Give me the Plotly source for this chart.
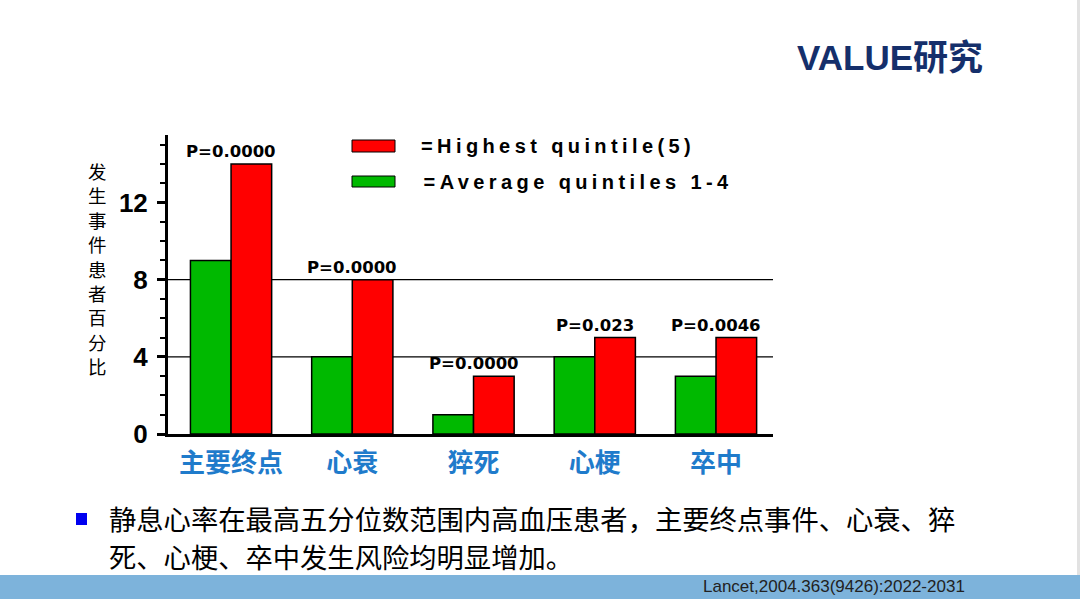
import plotly.graph_objects as go

# ---------------- data ----------------
categories = ["主要终点", "心衰", "猝死", "心梗", "卒中"]
avg_q14 = [9, 4, 1, 4, 3]          # =Average quintiles 1-4 (green)
highest_q5 = [14, 8, 3, 5, 5]      # =Highest quintile(5) (red)
p_values = ["P=0.0000", "P=0.0000", "P=0.0000", "P=0.023", "P=0.0046"]
y_ticks = [0, 4, 8, 12]
grid_values = [4, 8]
legend_names = ["=Highest quintile(5)", "=Average quintiles 1-4"]
y_title = "发生事件患者百分比"
page_title = "VALUE研究"
bullet_lines = ["静息心率在最高五分位数范围内高血压患者，主要终点事件、心衰、猝",
                "死、心梗、卒中发生风险均明显增加。"]
citation = "Lancet,2004.363(9426):2022-2031"

# ---------------- layout geometry ----------------
W_PX, H_PX = 1080, 599
L, R, T, B = 168, 773, 135, 434
PW, PH = R - L, B - T

def px(x):
    return (x - L) / PW

def py(y):
    return (B - y) / PH

RED = "#FF0000"
GREEN = "#00B900"
BLUE_LBL = "#1F7BCB"
NAVY = "#152F6B"
CJK = "Noto Sans CJK SC"
SANS = "Liberation Sans, Arial, Noto Sans CJK SC"

fig = go.Figure()
fig.add_trace(go.Bar(x=categories, y=avg_q14, name=legend_names[1],
                     marker=dict(color=GREEN, line=dict(color="black", width=1.5)),
                     showlegend=False))
fig.add_trace(go.Bar(x=categories, y=highest_q5, name=legend_names[0],
                     marker=dict(color=RED, line=dict(color="black", width=1.5)),
                     showlegend=False))

shapes = []
for g in grid_values:
    shapes.append(dict(type="line", xref="x domain", yref="y", x0=0, x1=1, y0=g, y1=g,
                       line=dict(color="black", width=1.2), layer="below"))

# legend swatches
shapes.append(dict(type="rect", xref="paper", yref="paper", x0=px(352), x1=px(395),
                   y0=py(152), y1=py(140), fillcolor=RED, line=dict(color="black", width=1)))
shapes.append(dict(type="rect", xref="paper", yref="paper", x0=px(352), x1=px(395),
                   y0=py(187), y1=py(176), fillcolor=GREEN, line=dict(color="black", width=1)))
# bullet square
shapes.append(dict(type="rect", xref="paper", yref="paper", x0=px(76), x1=px(87),
                   y0=py(525), y1=py(513), fillcolor="#0000F0", line=dict(width=0)))
# bottom band
shapes.append(dict(type="rect", xref="paper", yref="paper", x0=px(0), x1=px(W_PX),
                   y0=py(H_PX), y1=py(575), fillcolor="#7DB3DB", line=dict(width=0)))
# right edge gray strip
shapes.append(dict(type="rect", xref="paper", yref="paper", x0=px(1077), x1=px(W_PX),
                   y0=py(575), y1=py(0), fillcolor="#E2E2E2", line=dict(width=0)))

annotations = []
for c, v, p in zip(categories, highest_q5, p_values):
    annotations.append(dict(x=c, y=v, xref="x", yref="y", text=p, showarrow=False,
                            yanchor="bottom", yshift=1,
                            font=dict(family="DejaVu Sans", size=16.5, color="black", weight="bold")))
# legend texts (centred so that letter-spacing expands symmetrically)
annotations.append(dict(x=px(558), y=py(146), xref="paper", yref="paper", text=legend_names[0],
                        showarrow=False, xanchor="center", yanchor="middle",
                        font=dict(family="Liberation Sans", size=20, color="black", weight="bold")))
annotations.append(dict(x=px(578), y=py(182), xref="paper", yref="paper", text=legend_names[1],
                        showarrow=False, xanchor="center", yanchor="middle",
                        font=dict(family="Liberation Sans", size=20, color="black", weight="bold")))
# y title (vertical stacked characters)
for i, ch in enumerate(y_title):
    annotations.append(dict(x=px(97), y=py(171 + i * 24.4), xref="paper", yref="paper",
                            text=ch, showarrow=False, xanchor="center", yanchor="middle",
                            font=dict(family=CJK, size=18.5, color="black")))
# page title
annotations.append(dict(x=px(890), y=py(58), xref="paper", yref="paper", text=page_title,
                        showarrow=False, xanchor="center", yanchor="middle",
                        font=dict(family=SANS, size=35, color=NAVY, weight="bold")))
# bullet text
annotations.append(dict(x=px(107), y=py(518), xref="paper", yref="paper", text=bullet_lines[0],
                        showarrow=False, xanchor="left", yanchor="middle",
                        font=dict(family=CJK, size=27.3, color="black")))
annotations.append(dict(x=px(107), y=py(556), xref="paper", yref="paper", text=bullet_lines[1],
                        showarrow=False, xanchor="left", yanchor="middle",
                        font=dict(family=CJK, size=27.3, color="black")))
# citation
annotations.append(dict(x=px(967), y=py(586), xref="paper", yref="paper", text=citation,
                        showarrow=False, xanchor="right", yanchor="middle",
                        font=dict(family="Liberation Sans Narrow, Liberation Sans", size=17, color="#222222")))

fig.update_layout(
    width=W_PX, height=H_PX,
    margin=dict(l=L, r=W_PX - R, t=T, b=H_PX - B, pad=0),
    paper_bgcolor="white", plot_bgcolor="white",
    barmode="group", bargap=0.33, bargroupgap=0,
    shapes=shapes, annotations=annotations,
    xaxis=dict(type="category", range=[-0.52, 4.47], showline=True, linecolor="black",
               linewidth=3, ticks="", showgrid=False, zeroline=False,
               ticklabelstandoff=4,
               tickfont=dict(family=CJK, size=26, color=BLUE_LBL, weight="bold")),
    yaxis=dict(range=[0, 15.5], tickvals=y_ticks, ticktext=[str(t) for t in y_ticks],
               showline=True, linecolor="black", linewidth=3, ticks="outside",
               ticklen=8, tickwidth=2.5, tickcolor="black", showgrid=False, zeroline=False,
               ticklabelstandoff=4,
               minor=dict(dtick=1, ticks="outside", ticklen=5, tickwidth=2, tickcolor="black"),
               tickfont=dict(family=SANS, size=26, color="black", weight="bold")),
)

post = """
document.body.style.margin = '0';
document.body.style.overflow = 'hidden';
var names = %s;
document.querySelectorAll('text.annotation-text').forEach(function(t){
  if (names.indexOf(t.textContent) >= 0) { t.setAttribute('letter-spacing', '4.4px'); }
});
""" % (str(legend_names).replace("'", '"'))

fig.write_html("out.html", post_script=post, config={"displayModeBar": False})
